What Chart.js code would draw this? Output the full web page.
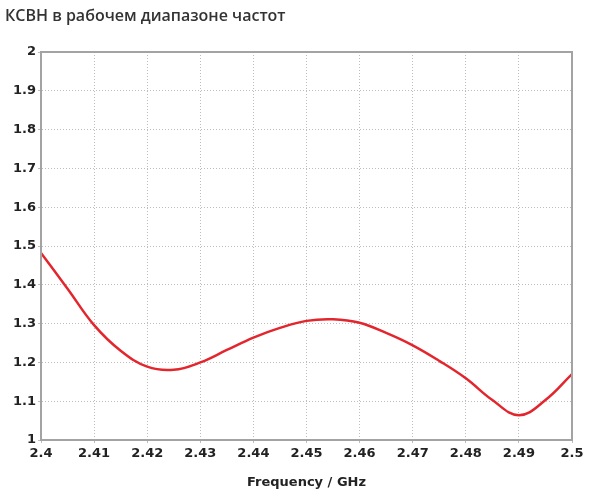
<!DOCTYPE html>
<html lang="ru">
<head>
    <meta charset="UTF-8">
    <title>КСВН в рабочем диапазоне частот</title>
    <script src="https://cdn.jsdelivr.net/npm/chart.js"></script>
    <style>
        html, body { margin: 0; padding: 0; background: #fff; }
        .wrap { width: 600px; height: 501px; position: relative; }
        .title {
            position: absolute; left: 5px; top: 4px;
            font-family: 'Open Sans', sans-serif; font-size: 16px; font-weight: 600;
            color: #333; white-space: nowrap;
        }
    </style>
</head>
<body>
    <div class="wrap">
        <div class="title">КСВН в рабочем диапазоне частот</div>
        <canvas id="vswrChart"></canvas>
    </div>

    <script>
        // частота, ГГц
        const freq = [2.400, 2.405, 2.410, 2.415, 2.420, 2.425, 2.430, 2.435, 2.440, 2.445,
                      2.450, 2.455, 2.460, 2.465, 2.470, 2.475, 2.480, 2.485, 2.490, 2.495,
                      2.500];
        // КСВН
        const vswr = [1.482, 1.390, 1.296, 1.230, 1.189, 1.181, 1.200, 1.232, 1.264, 1.289,
                      1.307, 1.311, 1.302, 1.276, 1.244, 1.204, 1.159, 1.103, 1.064, 1.103,
                      1.170];
        const yTicks = [1, 1.1, 1.2, 1.3, 1.4, 1.5, 1.6, 1.7, 1.8, 1.9, 2];
        const xTicks = [2.4, 2.41, 2.42, 2.43, 2.44, 2.45, 2.46, 2.47, 2.48, 2.49, 2.5];

        const tickFont = { family: "'DejaVu Sans', Verdana, sans-serif", size: 13, weight: "bold" };

        // рамка вокруг области графика
        const frame = {
            id: "frame",
            afterDraw(chart) {
                const a = chart.chartArea;
                const ctx = chart.ctx;
                ctx.save();
                ctx.strokeStyle = "#a3a3a3";
                ctx.lineWidth = 2;
                ctx.strokeRect(a.left, a.top, a.right - a.left, a.bottom - a.top);
                ctx.restore();
            }
        };

        const ctx = document.getElementById("vswrChart").getContext("2d");
        new Chart(ctx, {
            type: "line",
            data: {
                datasets: [{
                    data: freq.map((f, i) => ({ x: f, y: vswr[i] })),
                    borderColor: "#e3262d",
                    borderWidth: 2.5,
                    pointRadius: 0,
                    fill: false,
                    tension: 0.4
                }]
            },
            options: {
                responsive: true,
                maintainAspectRatio: false,
                animation: false,
                layout: { padding: { left: 0, right: 28, top: 52, bottom: 11 } },
                plugins: {
                    legend: { display: false },
                    tooltip: { enabled: false },
                    title: { display: false }
                },
                scales: {
                    x: {
                        type: "linear",
                        min: 2.4,
                        max: 2.5,
                        afterBuildTicks: s => { s.ticks = xTicks.map(v => ({ value: v })); },
                        afterFit: s => { s.height = 50; },
                        ticks: {
                            color: "#222",
                            font: tickFont,
                            padding: 3,
                            maxRotation: 0,
                            callback: v => String(v)
                        },
                        grid: { color: "#bdbdbd", lineWidth: 1, tickLength: 3 },
                        border: { color: "#a3a3a3", width: 2, dash: [1, 2] },
                        title: {
                            display: true,
                            text: "Frequency / GHz",
                            color: "#222",
                            font: { family: "'DejaVu Sans', Verdana, sans-serif", size: 13, weight: "bold" },
                            padding: { top: 4, bottom: 0 }
                        }
                    },
                    y: {
                        min: 1,
                        max: 2,
                        afterBuildTicks: s => { s.ticks = yTicks.map(v => ({ value: v })); },
                        afterFit: s => { s.width = 41; },
                        ticks: {
                            color: "#222",
                            font: tickFont,
                            padding: 2,
                            callback: v => String(v)
                        },
                        grid: { color: "#bdbdbd", lineWidth: 1, tickLength: 3 },
                        border: { color: "#a3a3a3", width: 2, dash: [1, 2] }
                    }
                }
            },
            plugins: [frame]
        });
    </script>
</body>
</html>
